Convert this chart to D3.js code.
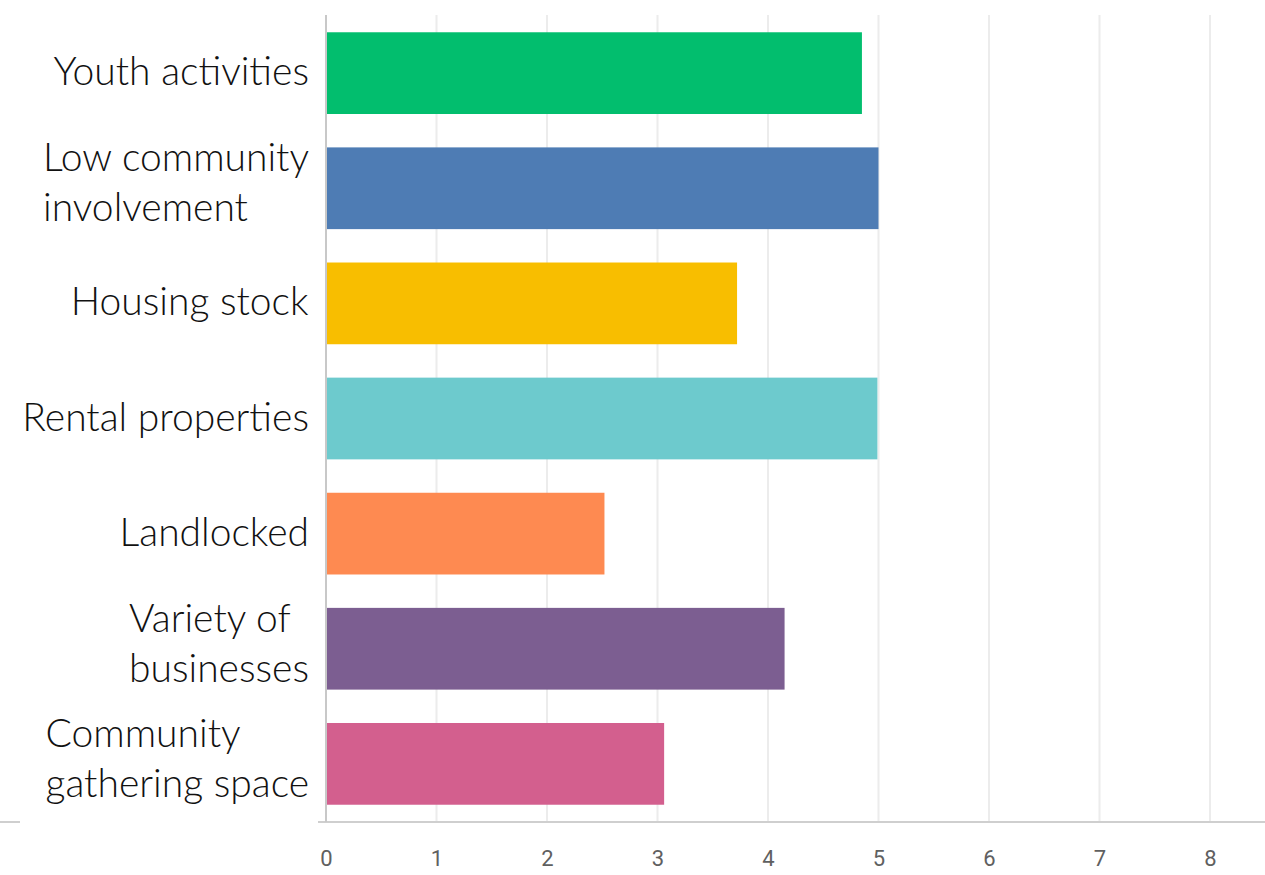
<!DOCTYPE html>
<html>
<head>
<meta charset="utf-8">
<script src="https://cdn.jsdelivr.net/npm/d3@7"></script>
<style>
  body { margin: 0; background: #fff; }
</style>
</head>
<body>
<svg width="1265" height="875"></svg>
<script>
// categories and values
const categories = [
    'Youth activities',
    'Low community involvement',
    'Housing stock',
    'Rental properties',
    'Landlocked',
    'Variety of businesses',
    'Community gathering space'
];
const labelLines = [
    ['Youth activities'],
    ['Low community', 'involvement'],
    ['Housing stock'],
    ['Rental properties'],
    ['Landlocked'],
    ['Variety of', 'businesses'],
    ['Community', 'gathering space']
];
const values = [4.85, 5.0, 3.72, 4.99, 2.52, 4.15, 3.06];
const colors = ['#02be6e', '#4e7cb4', '#f8be00', '#6dcacd', '#fe8a51', '#7c5e91', '#d35f8e'];
const xTicks = [0, 1, 2, 3, 4, 5, 6, 7, 8];

const svg = d3.select('svg');
const width = +svg.attr('width');

const plot = { l: 326, r: 1210, t: 15, b: 822 };

const x = d3.scaleLinear().domain([0, 8]).range([plot.l, plot.r]);
const y = d3.scaleBand()
    .domain(categories)
    .range([plot.t, plot.b])
    .paddingInner(0.29)
    .paddingOuter(0.15);

// grid lines
svg.append('g')
    .selectAll('line')
    .data(xTicks.slice(1))
    .join('line')
    .attr('x1', d => x(d)).attr('x2', d => x(d))
    .attr('y1', plot.t).attr('y2', plot.b)
    .attr('stroke', '#ececec')
    .attr('stroke-width', 2);

// bottom axis line across the whole width
svg.append('line')
    .attr('x1', 0).attr('x2', width)
    .attr('y1', plot.b).attr('y2', plot.b)
    .attr('stroke', '#cfcfcf')
    .attr('stroke-width', 2);

// zero line
svg.append('line')
    .attr('x1', x(0)).attr('x2', x(0))
    .attr('y1', plot.t).attr('y2', plot.b)
    .attr('stroke', '#c8c8c8')
    .attr('stroke-width', 2);

// bars
svg.append('g')
    .selectAll('rect')
    .data(categories)
    .join('rect')
    .attr('x', x(0) + 1)
    .attr('y', d => y(d))
    .attr('width', (d, i) => x(values[i]) - x(0) - 1)
    .attr('height', y.bandwidth())
    .attr('fill', (d, i) => colors[i]);

// x axis tick labels
const xAxis = d3.axisBottom(x).tickValues(xTicks).tickSize(0).tickPadding(28);
svg.append('g')
    .attr('transform', `translate(0, ${plot.b})`)
    .call(xAxis)
    .call(g => g.select('.domain').remove())
    .call(g => g.selectAll('.tick text')
        .attr('font-family', 'Roboto, sans-serif')
        .attr('font-size', 22)
        .attr('fill', '#606060'));

// label panel (white box over the axis line)
svg.append('rect')
    .attr('x', 20).attr('y', 0)
    .attr('width', 298).attr('height', 838)
    .attr('fill', '#fff');

const lineH = 50;
const labelRight = 309;
const labels = svg.append('g');
categories.forEach((c, i) => {
    const lines = labelLines[i];
    const cy = y(c) + y.bandwidth() / 2 - (lines.length > 1 ? 7 : 3);
    const t = labels.append('text')
        .attr('font-family', 'Lato, "Open Sans", sans-serif')
        .attr('font-weight', 300)
        .attr('font-size', 39)
        .attr('fill', '#111')
        .attr('dominant-baseline', 'central');
    lines.forEach((ln, j) => {
        t.append('tspan')
            .attr('x', 0)
            .attr('y', cy + (j - (lines.length - 1) / 2) * lineH)
            .text(ln);
    });
    // right-align the block, lines left-aligned within it
    const w = t.node().getBBox().width;
    t.selectAll('tspan').attr('x', labelRight - w);
});
</script>
</body>
</html>
